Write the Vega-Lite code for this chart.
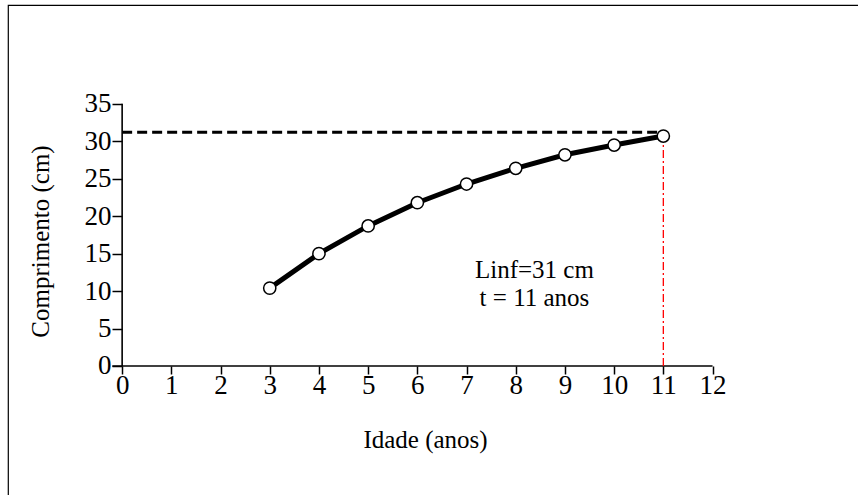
{
  "$schema": "https://vega.github.io/schema/vega-lite/v6.json",
  "width": 900,
  "height": 540,
  "autosize": {"type": "none"},
  "padding": {"left": 8, "top": 5, "right": 0, "bottom": 0},
  "background": "white",
  "config": {
    "view": {"stroke": "black", "strokeWidth": 1.2, "fill": "white"},
    "font": "Liberation Serif"
  },
  "datasets": {
    "growth": [
      {"idade": 3, "comprimento": 10.4},
      {"idade": 4, "comprimento": 15.0},
      {"idade": 5, "comprimento": 18.7},
      {"idade": 6, "comprimento": 21.8},
      {"idade": 7, "comprimento": 24.3},
      {"idade": 8, "comprimento": 26.4},
      {"idade": 9, "comprimento": 28.2},
      {"idade": 10, "comprimento": 29.5},
      {"idade": 11, "comprimento": 30.7}
    ],
    "linf": [{"x1": 0, "x2": 11, "y": 31.2}],
    "tline": [{"x": 11, "y1": 0, "y2": 30.7}],
    "xaxisline": [{"x1": -0.2, "x2": 12, "y": 0}],
    "yaxisline": [{"x": 0, "y1": 0, "y2": 35}],
    "notes": [
      {"x": 8.38, "y": 12.8, "label": "Linf=31 cm"},
      {"x": 8.38, "y": 9.1, "label": "t = 11 anos"}
    ]
  },
  "layer": [
    {
      "data": {"name": "xaxisline"},
      "mark": {"type": "rule", "color": "black", "strokeWidth": 1.6},
      "encoding": {
        "x": {"field": "x1", "type": "quantitative",
          "scale": {"domain": [-2.32, 15.973], "nice": false, "zero": false},
          "axis": {
            "values": [0,1,2,3,4,5,6,7,8,9,10,11,12],
            "offset": -179,
            "domain": false,
            "grid": false,
            "ticks": true,
            "tickColor": "black",
            "tickSize": 8,
            "tickWidth": 1.5,
            "labelFont": "Liberation Serif",
            "labelFontSize": 27,
            "labelColor": "black",
            "labelPadding": -2,
            "labelFlush": false,
            "labelOverlap": false,
            "title": "Idade (anos)",
            "titleFont": "Liberation Serif",
            "titleFontSize": 25,
            "titleFontWeight": "normal",
            "titleColor": "black",
            "titlePadding": 29,
            "titleX": 417
          }
        },
        "x2": {"field": "x2"},
        "y": {"field": "y", "type": "quantitative",
          "scale": {"domain": [-23.9, 48.2], "nice": false, "zero": false},
          "axis": {
            "values": [0,5,10,15,20,25,30,35],
            "offset": -114,
            "domain": false,
            "grid": false,
            "tickColor": "black",
            "tickSize": 10,
            "tickWidth": 1.5,
            "labelFont": "Liberation Serif",
            "labelFontSize": 27,
            "labelColor": "black",
            "labelPadding": 1,
            "labelFlush": false,
            "labelOverlap": false,
            "title": "Comprimento (cm)",
            "titleFont": "Liberation Serif",
            "titleFontSize": 25,
            "titleFontWeight": "normal",
            "titleColor": "black",
            "titlePadding": 31,
            "titleY": 236
          }
        }
      }
    },
    {
      "data": {"name": "yaxisline"},
      "mark": {"type": "rule", "color": "black", "strokeWidth": 1.6},
      "encoding": {
        "x": {"field": "x", "type": "quantitative"},
        "y": {"field": "y1", "type": "quantitative"},
        "y2": {"field": "y2"}
      }
    },
    {
      "data": {"name": "linf"},
      "mark": {"type": "rule", "color": "black", "strokeWidth": 3, "strokeDash": [10, 5]},
      "encoding": {
        "x": {"field": "x1", "type": "quantitative"},
        "x2": {"field": "x2"},
        "y": {"field": "y", "type": "quantitative"}
      }
    },
    {
      "data": {"name": "tline"},
      "mark": {"type": "rule", "color": "#ff0000", "strokeWidth": 1.3, "strokeDash": [8, 3, 2, 3]},
      "encoding": {
        "x": {"field": "x", "type": "quantitative"},
        "y": {"field": "y1", "type": "quantitative"},
        "y2": {"field": "y2"}
      }
    },
    {
      "data": {"name": "growth"},
      "mark": {"type": "line", "color": "black", "strokeWidth": 5},
      "encoding": {
        "x": {"field": "idade", "type": "quantitative"},
        "y": {"field": "comprimento", "type": "quantitative"}
      }
    },
    {
      "data": {"name": "growth"},
      "mark": {"type": "point", "shape": "circle", "filled": true, "fill": "white", "stroke": "black", "strokeWidth": 1.5, "size": 150, "opacity": 1},
      "encoding": {
        "x": {"field": "idade", "type": "quantitative"},
        "y": {"field": "comprimento", "type": "quantitative"}
      }
    },
    {
      "data": {"name": "notes"},
      "mark": {"type": "text", "font": "Liberation Serif", "fontSize": 25, "color": "black", "align": "center", "baseline": "middle"},
      "encoding": {
        "x": {"field": "x", "type": "quantitative"},
        "y": {"field": "y", "type": "quantitative"},
        "text": {"field": "label"}
      }
    }
  ]
}
